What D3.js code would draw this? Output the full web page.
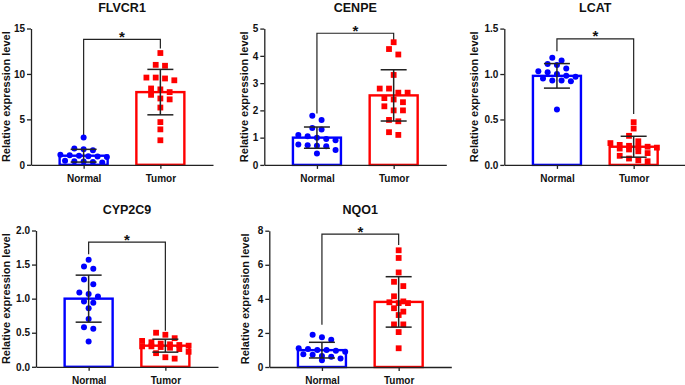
<!DOCTYPE html>
<html>

<head>
    <meta charset='utf-8'>
    <title>Relative expression</title>
    <script type='text/javascript' src='https://cdn.jsdelivr.net/npm/d3@7'></script>
    <style>
        body { margin: 0; background: #fff; }
        text { font-family: 'Liberation Sans', Arial, sans-serif; font-weight: bold; fill: #111; }
    </style>
</head>

<body>
    <svg width='685' height='385'></svg>
    <script type='text/javascript'>

        const genes = ['FLVCR1', 'CENPE', 'LCAT', 'CYP2C9', 'NQO1']
        const groups = ['Normal', 'Tumor']

        // individual samples
        const normalValues = [
            [3.0, 1.8, 1.7, 1.6, 1.1, 1.05, 1.0, 0.95, 0.9, 0.85, 0.45, 0.4, 0.35, 0.3, 0.25],
            [1.8, 1.65, 1.35, 1.3, 1.1, 1.05, 1.0, 0.95, 0.9, 0.75, 0.72, 0.7, 0.68, 0.55, 0.42],
            [1.18, 1.15, 1.11, 1.10, 1.06, 1.03, 1.02, 1.0, 0.98, 0.97, 0.95, 0.93, 0.93, 0.92, 0.61],
            [1.57, 1.47, 1.44, 1.28, 1.21, 1.07, 1.09, 1.03, 0.94, 0.96, 0.86, 0.70, 0.58, 0.56, 0.37],
            [1.9, 1.75, 1.6, 1.1, 1.05, 1.0, 1.0, 0.95, 0.9, 0.75, 0.72, 0.65, 0.6, 0.5, 0.4]
        ]
        const tumorValues = [
            [12.3, 11.0, 10.9, 9.6, 9.6, 9.5, 9.3, 8.4, 8.3, 8.0, 7.7, 7.3, 7.2, 6.3, 4.7, 3.9, 2.7],
            [4.5, 4.25, 4.05, 3.3, 2.8, 2.8, 2.65, 2.65, 2.45, 2.4, 2.3, 2.15, 2.0, 2.0, 1.65, 1.6, 1.2, 1.1],
            [0.47, 0.40, 0.32, 0.26, 0.24, 0.22, 0.21, 0.20, 0.20, 0.19, 0.18, 0.17, 0.15, 0.13, 0.10, 0.07, 0.05, 0.04],
            [0.50, 0.47, 0.42, 0.38, 0.36, 0.34, 0.33, 0.32, 0.31, 0.30, 0.30, 0.29, 0.28, 0.26, 0.22, 0.20, 0.14, 0.12],
            [6.85, 6.4, 5.55, 5.0, 4.75, 4.15, 3.85, 3.8, 3.75, 3.75, 3.45, 3.25, 3.05, 2.5, 2.5, 2.05, 1.1]
        ]
        // bar heights (mean) and error bars (SD)
        const normalMean = [1.0, 1.0, 0.98, 1.0, 0.99]
        const normalSD = [0.7, 0.39, 0.135, 0.345, 0.46]
        const tumorMean = [8.0, 2.55, 0.2, 0.31, 3.82]
        const tumorSD = [2.5, 0.94, 0.115, 0.095, 1.48]

        const yMax = [15, 5, 1.5, 2, 8]
        const yTicks = [[0, 5, 10, 15], [0, 1, 2, 3, 4, 5], [0, 0.5, 1, 1.5], [0, 0.5, 1, 1.5, 2], [0, 2, 4, 6, 8]]
        const tickFormats = ['d', 'd', '.1f', '.1f', 'd']

        // significance brackets
        const bracketLevel = [13.8, 4.83, 1.386, 1.83, 7.8]
        const bracketNormalEnd = [3.1, 1.89, 1.25, 1.65, 2.48]
        const bracketTumorEnd = [12.8, 4.55, 0.56, 0.53, 7.16]
        const starLabel = '*'

        // layout of the five panels (y axis position, top of plot, y label position)
        const panels = [
            { x: 31, y: 28.5, labelX: 5.5 },
            { x: 264.3, y: 28.6, labelX: 243.5 },
            { x: 504.3, y: 28.6, labelX: 473.5 },
            { x: 36, y: 230.5, labelX: 5.5 },
            { x: 269.3, y: 230.7, labelX: 245 }
        ]
        const plotW = 182, plotH = 136.3
        const colors = { Normal: '#0000ff', Tumor: '#ff0000' }
        const ink = '#222'

        const svg = d3.select('svg')

        // simple prism-like column scatter: rows of close values, centred on the column,
        // never wider than the bar
        function swarm(values, y, cx, gap, thresh, maxRow) {
            const pts = values.map(v => ({ v, py: y(v) })).sort((a, b) => a.py - b.py)
            const rows = []
            let cur = null
            pts.forEach(p => {
                if (!cur || p.py - cur[0].py > thresh || cur.length >= maxRow) { cur = [p]; rows.push(cur) }
                else cur.push(p)
            })
            rows.forEach(r => r.forEach((p, i) => { p.px = cx + (i - (r.length - 1) / 2) * gap }))
            return pts
        }

        genes.forEach((gene, i) => {
            const p = panels[i]
            const g = svg.append('g').attr('transform', `translate(${p.x}, ${p.y})`)

            const y = d3.scaleLinear().domain([0, yMax[i]]).range([plotH, 0])
            const x = d3.scalePoint().domain(groups).range([0, plotW]).padding(0.686)

            const stats = [
                { group: 'Normal', mean: normalMean[i], sd: normalSD[i], values: normalValues[i] },
                { group: 'Tumor', mean: tumorMean[i], sd: tumorSD[i], values: tumorValues[i] }
            ]

            // bars
            g.selectAll('rect.bar').data(stats).enter().append('rect')
                .attr('class', 'bar')
                .attr('x', d => x(d.group) - 24)
                .attr('y', d => y(d.mean))
                .attr('width', 48)
                .attr('height', d => plotH - y(d.mean))
                .attr('fill', 'none')
                .attr('stroke', d => colors[d.group])
                .attr('stroke-width', 2.4)

            // bracket
            const xa = x('Normal'), xb = x('Tumor')
            g.append('path')
                .attr('d', `M${xa},${y(bracketNormalEnd[i])}V${y(bracketLevel[i])}H${xb}V${y(bracketTumorEnd[i])}`)
                .attr('fill', 'none').attr('stroke', ink).attr('stroke-width', 1.2)
            g.append('text')
                .attr('x', (xa + xb) / 2)
                .attr('y', y(bracketLevel[i]) + 2.5)
                .attr('text-anchor', 'middle')
                .style('font-size', '15px')
                .text(starLabel)

            // points
            const normalPts = swarm(normalValues[i], y, xa, 9.3, 5.5, 6)
            g.selectAll('circle.pt').data(normalPts).enter().append('circle')
                .attr('class', 'pt')
                .attr('cx', d => d.px).attr('cy', d => d.py).attr('r', 3)
                .attr('fill', colors.Normal)
            const tumorPts = swarm(tumorValues[i], y, xb, 9.3, 5.5, 6)
            g.selectAll('rect.pt').data(tumorPts).enter().append('rect')
                .attr('class', 'pt')
                .attr('x', d => d.px - 2.9).attr('y', d => d.py - 2.9)
                .attr('width', 5.8).attr('height', 5.8)
                .attr('fill', colors.Tumor)

            // error bars
            const eb = g.selectAll('g.err').data(stats).enter().append('g')
                .attr('class', 'err').attr('stroke', ink).attr('stroke-width', 1.5)
            eb.append('line')
                .attr('x1', d => x(d.group)).attr('x2', d => x(d.group))
                .attr('y1', d => y(Math.max(0, d.mean - d.sd))).attr('y2', d => y(d.mean + d.sd))
            eb.append('line')
                .attr('x1', d => x(d.group) - 13).attr('x2', d => x(d.group) + 13)
                .attr('y1', d => y(d.mean + d.sd)).attr('y2', d => y(d.mean + d.sd))
            eb.append('line')
                .attr('x1', d => x(d.group) - 13).attr('x2', d => x(d.group) + 13)
                .attr('y1', d => y(d.mean - d.sd)).attr('y2', d => y(d.mean - d.sd))

            // axes
            const yAxis = g.append('g')
                .call(d3.axisLeft(y).tickValues(yTicks[i]).tickFormat(d3.format(tickFormats[i]))
                    .tickSize(4).tickSizeOuter(0).tickPadding(2))
            const xAxis = g.append('g').attr('transform', `translate(0, ${plotH})`)
                .call(d3.axisBottom(x).tickSize(4).tickSizeOuter(0).tickPadding(6))
            ;[yAxis, xAxis].forEach(a => {
                a.select('.domain').attr('stroke', ink).attr('stroke-width', 1.3)
                a.selectAll('.tick line').attr('stroke', ink).attr('stroke-width', 1.3)
                a.selectAll('.tick text').attr('fill', '#111').style('font-family', "'Liberation Sans', Arial, sans-serif")
            })
            yAxis.selectAll('.tick text').style('font-size', '10px')
            xAxis.selectAll('.tick text').style('font-size', '10px')

            // title and y label
            g.append('text')
                .attr('x', plotW / 2).attr('y', -21.5 + 4.5)
                .attr('text-anchor', 'middle')
                .style('font-size', '12.5px')
                .text(gene)
            svg.append('text')
                .attr('transform', `translate(${p.labelX}, ${p.y + plotH / 2}) rotate(-90)`)
                .attr('text-anchor', 'middle')
                .attr('dominant-baseline', 'central')
                .style('font-size', '11px')
                .text('Relative expression level')
        })
    </script>
</body>

</html>
